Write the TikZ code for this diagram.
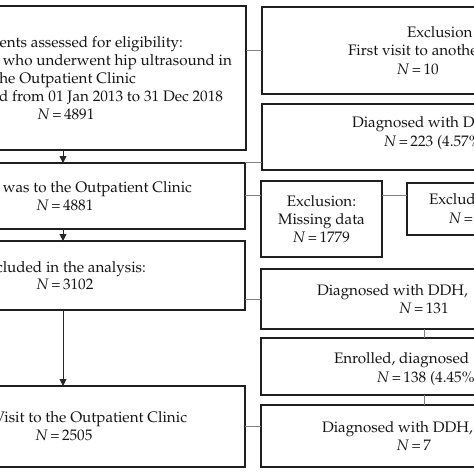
\documentclass[tikz,border=0pt]{standalone}
\usepackage[T1]{fontenc}
\usepackage{mathpazo}
\usetikzlibrary{arrows.meta,calc}
\newcommand{\Neq}{\textit{N}\,=\,}
\begin{document}
\begin{tikzpicture}[x=1pt,y=-1pt,
  box/.style={draw=black!88, line width=1.8pt, rectangle, inner sep=0pt, outer sep=0pt, anchor=north west},
  conn/.style={draw=black!50, line width=0.9pt},
  arr/.style={draw=black!85, line width=0.9pt, -{Triangle[length=7pt,width=7pt]}},
  txt/.style={inner sep=0pt, outer sep=0pt, font=\fontsize{15.2}{18}\selectfont, text=black!92},
  bw/.style={txt, anchor=base west},
  be/.style={txt, anchor=base east},
  bc/.style={txt, anchor=base},
]
\useasboundingbox (0,0) rectangle (474,474);
\fill[white] (0,0) rectangle (474,474);

% left column boxes
\node[box, minimum width=376pt, minimum height=144pt] (L1) at (-130,6) {};
\node[box, minimum width=375pt, minimum height=66pt] (L2) at (-130,163) {};
\node[box, minimum width=375pt, minimum height=69pt] (L3) at (-130,241) {};
\node[box, minimum width=375pt, minimum height=81pt] (L4) at (-130,386) {};

% right column boxes
\node[box, minimum width=326pt, minimum height=87pt] (R1) at (262,7) {};
\node[box, minimum width=326pt, minimum height=66pt] (R2) at (262,104) {};
\node[box, minimum width=121pt, minimum height=76pt, anchor=north west, align=center, font=\fontsize{15.2}{18}\selectfont, text=black!92] (R3) at (261,181) {Exclusion:\\Missing data\\\Neq 1779};
\node[box, minimum width=193pt, minimum height=52pt] (R4) at (407,183) {};
\node[box, minimum width=326pt, minimum height=60pt] (R5) at (261,269) {};
\node[box, minimum width=326pt, minimum height=57pt] (R6) at (261,338) {};
\node[box, minimum width=326pt, minimum height=62pt] (R7) at (261,405) {};

% helper coordinates
\coordinate (ax) at (63,0);
\coordinate (vx) at (424,0);
\coordinate (c1) at (0,50);
\coordinate (c2) at (0,162);
\coordinate (c3) at (0,195);
\coordinate (c5) at (0,299);
\coordinate (c7) at (0,426);

% arrows in left column
\draw[arr] (L1.south -| ax) -- (L2.north -| ax);
\draw[arr] (L2.south -| ax) -- (L3.north -| ax);
\draw[arr] (L3.south -| ax) -- (L4.north -| ax);

% horizontal connectors
\draw[conn] (L1.east |- c1) -- (R1.west |- c1);
\draw[conn] (L2.east |- c2) -- (R2.west |- c2);
\draw[conn] (L2.east |- c3) -- (R3.west |- c3);
\draw[conn] (R3.east |- c3) -- (R4.west |- c3);
\draw[conn] (L3.east |- c5) -- (R5.west |- c5);
\draw[conn] (L4.east |- c7) -- (R7.west |- c7);
% vertical connectors
\draw[conn] (R5.south -| vx) -- (R6.north -| vx);
\draw[conn] (R6.south -| vx) -- (R7.north -| vx);

% texts, left column
\node[be] (t11) at (183,47) {ients assessed for eligibility:};
\node[be] (t12) at (232,65) {who underwent hip ultrasound in};
\node[be] (t13) at (136,83) {he Outpatient Clinic};
\node[be] (t14) at (223,101) {d from 01 Jan 2013 to 31 Dec 2018};
\node[bc] (t15) at (66,119) {\Neq 4891};

\node[be] (t21) at (192,192) {was to the Outpatient Clinic};
\node[bc] (t22) at (65,210) {\Neq 4881};

\node[be] (t31) at (146,272) {cluded in the analysis:};
\node[bc] (t32) at (65,289) {\Neq 3102};

\node[be] (t41) at (187,422) {Visit to the Outpatient Clinic};
\node[bc] (t42) at (64,440) {\Neq 2505};

% texts, right column
\node[bw] (r11) at (407,37) {Exclusion};
\node[bw] (r12) at (348,55) {First visit to anothe};
\node[bc] (r13) at (418,74) {\Neq 10};

\node[bw] (r21) at (352,127) {Diagnosed with D};
\node[bw] (r22) at (384,146) {\Neq 223 (4.57\%};

\node[bw] (r41) at (429,204) {Exclud};
\node[bw] (r42) at (449,223) {\Neq};

\node[bw] (r51) at (317,295) {Diagnosed with DDH,};
\node[bc] (r52) at (424,313) {\Neq 131};

\node[bw] (r61) at (334,363) {Enrolled, diagnosed};
\node[bw] (r62) at (377,382) {\Neq 138 (4.45\%};

\node[bw] (r71) at (322,432) {Diagnosed with DDH,};
\node[bc] (r72) at (414,450) {\Neq 7};
\end{tikzpicture}
\end{document}
